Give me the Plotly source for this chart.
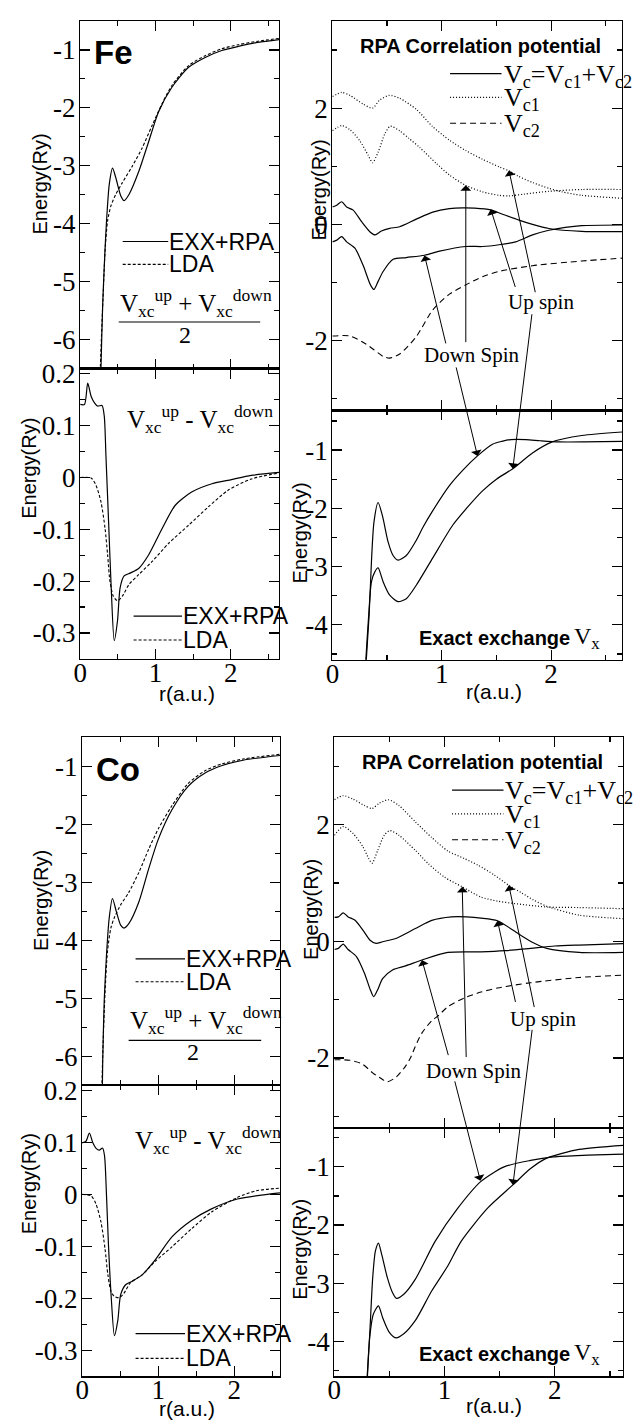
import plotly.graph_objects as go

W, H = 638, 1422

# ================= DATA =================
# ---- Fe : (Vxc_up + Vxc_down)/2 ----
fe_sum_exx_r = [0.26, 0.276, 0.298, 0.325, 0.35, 0.386, 0.43, 0.474, 0.54, 0.583, 0.65, 0.78, 0.91, 1.04, 1.22, 1.44, 1.66, 1.88, 2.1, 2.36, 2.65]
fe_sum_exx_v = [-7.5, -6.5, -5.43, -4.58, -3.95, -3.32, -3.04, -3.21, -3.52, -3.60, -3.49, -3.09, -2.58, -2.07, -1.64, -1.30, -1.13, -1.01, -0.94, -0.87, -0.82]
fe_sum_lda_r = [0.25, 0.268, 0.307, 0.333, 0.364, 0.408, 0.474, 0.56, 0.69, 0.82, 0.956, 1.09, 1.22, 1.44, 1.66, 1.88, 2.1, 2.36, 2.65]
fe_sum_lda_v = [-7.5, -6.46, -5.15, -4.41, -3.95, -3.69, -3.49, -3.29, -3.01, -2.70, -2.30, -1.92, -1.61, -1.27, -1.10, -0.98, -0.91, -0.85, -0.80]

# ---- Fe : Vxc_up - Vxc_down ----
fe_dif_exx_r = [0.0, 0.057, 0.10, 0.145, 0.19, 0.23, 0.29, 0.32, 0.342, 0.377, 0.412, 0.452, 0.496, 0.53, 0.583, 0.67, 0.78, 0.91, 1.09, 1.26, 1.48, 1.75, 2.01, 2.27, 2.65]
fe_dif_exx_v = [0.141, 0.141, 0.182, 0.157, 0.144, 0.138, 0.139, 0.118, 0.042, -0.085, -0.213, -0.315, -0.276, -0.213, -0.19, -0.184, -0.175, -0.149, -0.098, -0.054, -0.028, -0.012, -0.004, 0.004, 0.010]
fe_dif_lda_r = [0.0, 0.145, 0.21, 0.276, 0.33, 0.364, 0.395, 0.44, 0.496, 0.56, 0.65, 0.78, 0.956, 1.175, 1.44, 1.70, 1.96, 2.27, 2.65]
fe_dif_lda_v = [0.0, -0.001, -0.015, -0.047, -0.098, -0.149, -0.20, -0.229, -0.238, -0.229, -0.206, -0.187, -0.162, -0.127, -0.092, -0.057, -0.025, -0.003, 0.009]

# ---- Fe : RPA correlation potential ----
fe_vc1_up_r = [0, 0.085, 0.16, 0.28, 0.367, 0.433, 0.52, 0.615, 0.767, 0.918, 1.07, 1.22, 1.373, 1.524, 1.615, 1.70, 1.83, 1.98, 2.10, 2.28, 2.65]
fe_vc1_up_v = [2.20, 2.27, 2.22, 2.07, 2.00, 2.14, 2.22, 2.17, 1.98, 1.68, 1.45, 1.27, 1.12, 0.99, 0.92, 0.83, 0.72, 0.62, 0.56, 0.50, 0.45]
fe_vc1_dn_r = [0, 0.085, 0.16, 0.25, 0.327, 0.367, 0.418, 0.48, 0.53, 0.615, 0.70, 0.80, 0.95, 1.07, 1.22, 1.373, 1.524, 1.615, 1.75, 1.98, 2.28, 2.65]
fe_vc1_dn_v = [1.61, 1.70, 1.63, 1.44, 1.19, 1.06, 1.24, 1.56, 1.69, 1.61, 1.48, 1.32, 1.05, 0.85, 0.67, 0.56, 0.50, 0.49, 0.52, 0.57, 0.60, 0.60]
fe_vc_up_r = [0, 0.04, 0.085, 0.13, 0.19, 0.267, 0.342, 0.39, 0.448, 0.524, 0.615, 0.767, 0.918, 1.07, 1.19, 1.30, 1.448, 1.55, 1.706, 1.83, 1.98, 2.28, 2.65]
fe_vc_up_v = [0.30, 0.33, 0.39, 0.30, 0.245, 0.046, -0.125, -0.18, -0.114, -0.068, -0.04, 0.09, 0.21, 0.27, 0.285, 0.28, 0.25, 0.18, 0.074, 0.0, -0.07, -0.12, -0.125]
fe_vc_dn_r = [0, 0.04, 0.085, 0.13, 0.206, 0.28, 0.348, 0.38, 0.418, 0.464, 0.555, 0.676, 0.843, 0.98, 1.22, 1.373, 1.524, 1.675, 1.83, 1.98, 2.13, 2.28, 2.65]
fe_vc_dn_v = [-0.30, -0.27, -0.21, -0.30, -0.41, -0.70, -1.04, -1.12, -0.98, -0.81, -0.60, -0.57, -0.53, -0.46, -0.38, -0.38, -0.35, -0.30, -0.18, -0.10, -0.05, -0.02, -0.01]
fe_vc2_r = [0, 0.16, 0.31, 0.464, 0.524, 0.615, 0.767, 0.918, 1.07, 1.22, 1.373, 1.52, 1.83, 2.28, 2.65]
fe_vc2_v = [-1.92, -1.92, -2.06, -2.27, -2.30, -2.23, -1.93, -1.47, -1.20, -1.04, -0.90, -0.81, -0.71, -0.63, -0.58]

# ---- Fe : exact exchange ----
fe_vx_dn_r = [0.29, 0.31, 0.336, 0.357, 0.38, 0.418, 0.458, 0.51, 0.555, 0.60, 0.676, 0.767, 0.827, 0.918, 1.07, 1.20, 1.327, 1.464, 1.55, 1.63, 1.77, 1.90, 2.07, 2.3, 2.65]
fe_vx_dn_v = [-5.5, -4.6, -3.83, -2.92, -2.24, -1.90, -2.13, -2.58, -2.81, -2.89, -2.81, -2.55, -2.33, -2.04, -1.61, -1.33, -1.10, -0.90, -0.85, -0.82, -0.82, -0.84, -0.86, -0.86, -0.85]
fe_vx_up_r = [0.285, 0.306, 0.33, 0.357, 0.388, 0.418, 0.464, 0.524, 0.60, 0.676, 0.767, 0.918, 1.10, 1.25, 1.373, 1.50, 1.65, 1.83, 2.01, 2.28, 2.65]
fe_vx_up_v = [-5.5, -4.6, -3.89, -3.26, -3.09, -3.02, -3.26, -3.49, -3.60, -3.55, -3.32, -2.85, -2.29, -1.95, -1.70, -1.50, -1.32, -1.05, -0.86, -0.75, -0.69]

# ---- Co : (Vxc_up + Vxc_down)/2 ----
co_sum_exx_r = [0.255, 0.27, 0.29, 0.32, 0.355, 0.398, 0.45, 0.506, 0.55, 0.615, 0.745, 0.874, 1.0, 1.18, 1.39, 1.61, 1.83, 2.13, 2.62]
co_sum_exx_v = [-7.5, -6.1, -5.04, -4.25, -3.62, -3.28, -3.51, -3.74, -3.79, -3.71, -3.34, -2.77, -2.26, -1.75, -1.35, -1.12, -0.99, -0.89, -0.81]
co_sum_lda_r = [0.25, 0.268, 0.30, 0.333, 0.377, 0.42, 0.506, 0.615, 0.745, 0.874, 1.0, 1.18, 1.39, 1.61, 1.83, 2.13, 2.62]
co_sum_lda_v = [-7.5, -6.07, -4.93, -4.19, -3.79, -3.62, -3.39, -3.17, -2.83, -2.43, -2.08, -1.68, -1.30, -1.08, -0.96, -0.87, -0.79]

# ---- Co : Vxc_up - Vxc_down ----
co_dif_exx_r = [0.0, 0.05, 0.095, 0.14, 0.18, 0.225, 0.268, 0.294, 0.32, 0.346, 0.38, 0.424, 0.468, 0.506, 0.571, 0.658, 0.788, 0.96, 1.18, 1.44, 1.70, 2.04, 2.62]
co_dif_exx_v = [0.099, 0.102, 0.118, 0.099, 0.089, 0.085, 0.089, 0.074, -0.003, -0.098, -0.193, -0.272, -0.243, -0.193, -0.174, -0.167, -0.155, -0.126, -0.082, -0.050, -0.028, -0.009, 0.003]
co_dif_lda_r = [0.0, 0.117, 0.18, 0.247, 0.30, 0.338, 0.377, 0.42, 0.485, 0.55, 0.636, 0.788, 0.96, 1.18, 1.44, 1.70, 2.04, 2.29, 2.62]
co_dif_lda_v = [0.0, -0.003, -0.018, -0.053, -0.104, -0.155, -0.186, -0.196, -0.199, -0.19, -0.170, -0.155, -0.129, -0.101, -0.066, -0.034, -0.006, 0.007, 0.012]

# ---- Co : RPA correlation potential ----
co_vc1_up_r = [0, 0.08, 0.17, 0.274, 0.342, 0.408, 0.49, 0.586, 0.735, 0.884, 1.03, 1.18, 1.30, 1.45, 1.583, 1.70, 1.806, 1.93, 2.22, 2.62]
co_vc1_up_v = [2.43, 2.50, 2.44, 2.33, 2.28, 2.37, 2.43, 2.33, 2.05, 1.78, 1.55, 1.42, 1.31, 1.14, 0.96, 0.83, 0.71, 0.60, 0.45, 0.39]
co_vc1_dn_r = [0, 0.08, 0.17, 0.26, 0.312, 0.342, 0.393, 0.452, 0.503, 0.586, 0.735, 0.854, 1.0, 1.16, 1.33, 1.48, 1.63, 1.926, 2.22, 2.62]
co_vc1_dn_v = [1.82, 1.97, 1.85, 1.62, 1.42, 1.34, 1.56, 1.82, 1.90, 1.82, 1.56, 1.33, 1.10, 0.935, 0.76, 0.69, 0.65, 0.59, 0.58, 0.56]
co_vc_up_r = [0, 0.036, 0.08, 0.125, 0.185, 0.26, 0.324, 0.378, 0.4375, 0.557, 0.735, 0.884, 1.0625, 1.20, 1.33, 1.48, 1.6875, 1.80, 1.926, 2.22, 2.62]
co_vc_up_v = [0.41, 0.42, 0.49, 0.42, 0.365, 0.19, 0.02, -0.034, -0.006, 0.05, 0.22, 0.36, 0.42, 0.42, 0.40, 0.354, 0.108, -0.02, -0.12, -0.19, -0.19]
co_vc_dn_r = [0, 0.036, 0.08, 0.125, 0.2, 0.274, 0.324, 0.357, 0.393, 0.4375, 0.527, 0.646, 0.795, 1.03, 1.33, 1.55, 1.78, 2.0, 2.22, 2.62]
co_vc_dn_v = [-0.14, -0.12, -0.046, -0.14, -0.26, -0.55, -0.82, -0.95, -0.83, -0.64, -0.49, -0.42, -0.32, -0.19, -0.18, -0.16, -0.12, -0.08, -0.063, -0.04]
co_vc2_r = [0, 0.14, 0.25, 0.35, 0.4375, 0.48, 0.56, 0.646, 0.69, 0.735, 0.795, 0.884, 0.94, 1.03, 1.18, 1.33, 1.48, 1.78, 2.22, 2.62]
co_vc2_v = [-2.03, -2.04, -2.10, -2.26, -2.37, -2.41, -2.33, -2.14, -2.00, -1.80, -1.57, -1.36, -1.28, -1.12, -0.97, -0.87, -0.80, -0.71, -0.62, -0.58]

# ---- Co : exact exchange ----
co_vx_dn_r = [0.28, 0.30, 0.324, 0.348, 0.372, 0.40, 0.43, 0.48, 0.527, 0.562, 0.63, 0.735, 0.914, 1.12, 1.33, 1.54, 1.78, 1.985, 2.3, 2.62]
co_vx_dn_v = [-5.5, -4.6, -3.76, -2.90, -2.45, -2.31, -2.51, -2.90, -3.16, -3.26, -3.19, -2.93, -2.28, -1.71, -1.25, -1.0, -0.89, -0.83, -0.80, -0.78]
co_vx_up_r = [0.28, 0.298, 0.324, 0.354, 0.40, 0.4375, 0.497, 0.557, 0.63, 0.735, 0.884, 1.03, 1.15, 1.39, 1.62, 1.78, 1.926, 2.22, 2.62]
co_vx_up_v = [-5.5, -4.6, -3.87, -3.53, -3.39, -3.59, -3.84, -3.94, -3.87, -3.64, -3.13, -2.70, -2.28, -1.71, -1.31, -1.03, -0.85, -0.70, -0.63]

# tick labels
x_ticks = [0, 1, 2]
x_ticklabels = ["0", "1", "2"]
sum_ticks = [-6, -5, -4, -3, -2, -1]
sum_ticklabels = ["-6", "-5", "-4", "-3", "-2", "-1"]
dif_ticks = [-0.3, -0.2, -0.1, 0, 0.1, 0.2]
dif_ticklabels = ["-0.3", "-0.2", "-0.1", "0", "0.1", "0.2"]
vc_ticks = [-2, 0, 2]
vc_ticklabels = ["-2", "0", "2"]
vx_ticks = [-4, -3, -2, -1]
vx_ticklabels = ["-4", "-3", "-2", "-1"]

# ================= LAYOUT HELPERS =================
SERIF = "Liberation Serif"
SANS = "Liberation Sans"
TICKFONT = dict(family=SERIF, size=27, color="black")


def P(px, py):
    return px / W, 1 - py / H


layout = dict(width=W, height=H, margin=dict(l=0, r=0, t=0, b=0, pad=0),
              paper_bgcolor="white", plot_bgcolor="white", showlegend=False,
              font=dict(family=SERIF, size=24, color="black"))

# panels: id, x px span, y px span (top,bottom), xrange, yrange, yticks, ylabels, yminor, show x labels
panels = [
    (1, (74, 275), (12, 362), [0, 2.64], [-6.5, -0.5], sum_ticks, sum_ticklabels, [-5.5, -4.5, -3.5, -2.5, -1.5], False),
    (2, (74, 275), (362, 654), [0, 2.64], [-0.35, 0.21], dif_ticks, dif_ticklabels, [-0.25, -0.15, -0.05, 0.05, 0.15], True),
    (3, (329, 622), (12, 404), [0, 2.65], [-3.2, 3.5], vc_ticks, vc_ticklabels, [-3, -1, 1, 3], False),
    (4, (329, 622), (404, 655), [0, 2.65], [-4.6, -0.32], vx_ticks, vx_ticklabels, [-4.5, -3.5, -2.5, -1.5, -0.5], True),
    (5, (76, 276), (733, 1083), [0, 2.6], [-6.5, -0.5], sum_ticks, sum_ticklabels, [-5.5, -4.5, -3.5, -2.5, -1.5], False),
    (6, (76, 276), (1083, 1376), [0, 2.6], [-0.35, 0.21], dif_ticks, dif_ticklabels, [-0.25, -0.15, -0.05, 0.05, 0.15], True),
    (7, (331, 623), (733, 1126), [0, 2.62], [-3.2, 3.5], vc_ticks, vc_ticklabels, [-3, -1, 1, 3], False),
    (8, (331, 623), (1126, 1376), [0, 2.62], [-4.6, -0.33], vx_ticks, vx_ticklabels, [-4.5, -3.5, -2.5, -1.5, -0.5], True),
]

STYLES = {
    "solid": dict(color="black", width=1.2),
    "lda": dict(color="black", width=1.1, dash="3px,2px"),
    "vc1": dict(color="black", width=1.2, dash="1px,2px"),
    "vc2": dict(color="black", width=1.1, dash="6px,4px"),
}

series = [
    (1, fe_sum_exx_r, fe_sum_exx_v, "solid"), (1, fe_sum_lda_r, fe_sum_lda_v, "lda"),
    (2, fe_dif_exx_r, fe_dif_exx_v, "solid"), (2, fe_dif_lda_r, fe_dif_lda_v, "lda"),
    (3, fe_vc1_up_r, fe_vc1_up_v, "vc1"), (3, fe_vc1_dn_r, fe_vc1_dn_v, "vc1"),
    (3, fe_vc_up_r, fe_vc_up_v, "solid"), (3, fe_vc_dn_r, fe_vc_dn_v, "solid"),
    (3, fe_vc2_r, fe_vc2_v, "vc2"),
    (4, fe_vx_dn_r, fe_vx_dn_v, "solid"), (4, fe_vx_up_r, fe_vx_up_v, "solid"),
    (5, co_sum_exx_r, co_sum_exx_v, "solid"), (5, co_sum_lda_r, co_sum_lda_v, "lda"),
    (6, co_dif_exx_r, co_dif_exx_v, "solid"), (6, co_dif_lda_r, co_dif_lda_v, "lda"),
    (7, co_vc1_up_r, co_vc1_up_v, "vc1"), (7, co_vc1_dn_r, co_vc1_dn_v, "vc1"),
    (7, co_vc_up_r, co_vc_up_v, "solid"), (7, co_vc_dn_r, co_vc_dn_v, "solid"),
    (7, co_vc2_r, co_vc2_v, "vc2"),
    (8, co_vx_dn_r, co_vx_dn_v, "solid"), (8, co_vx_up_r, co_vx_up_v, "solid"),
]

fig = go.Figure()
for pid, r, v, st in series:
    sfx = "" if pid == 1 else str(pid)
    fig.add_trace(go.Scatter(x=r, y=v, mode="lines", line=dict(shape="spline", smoothing=0.7, **STYLES[st]),
                             xaxis="x" + sfx, yaxis="y" + sfx, hoverinfo="skip"))

fig.update_layout(**layout)

for pid, (x0, x1), (ytop, ybot), xr, yr, yt, yl, ymin, showx in panels:
    sfx = "" if pid == 1 else str(pid)
    common = dict(showgrid=False, zeroline=False, showline=True, linecolor="black", linewidth=1.3,
                  mirror="ticks", ticks="inside", ticklen=10, tickwidth=1.2, tickcolor="black",
                  tickfont=TICKFONT, fixedrange=True, tickmode="array")
    fig.layout["xaxis" + sfx] = dict(
        common, domain=[x0 / W, x1 / W], range=xr, anchor="y" + sfx,
        tickvals=x_ticks, ticktext=x_ticklabels, showticklabels=showx, ticklabelstandoff=-11,
        minor=dict(tickmode="array", tickvals=[0.5, 1.5, 2.5], ticks="inside", ticklen=5,
                   tickwidth=1.2, tickcolor="black"))
    fig.layout["yaxis" + sfx] = dict(
        common, domain=[1 - ybot / H, 1 - ytop / H], range=yr, anchor="x" + sfx,
        tickvals=yt, ticktext=yl, ticklabelstandoff=-2,
        minor=dict(tickmode="array", tickvals=ymin, ticks="inside", ticklen=5,
                   tickwidth=1.2, tickcolor="black"))

annotations = []
shapes = []


def text(px, py, s, size, family, xanchor="center", yanchor="middle", angle=0):
    x, y = P(px, py)
    annotations.append(dict(x=x, y=y, xref="paper", yref="paper", text=s, showarrow=False,
                            xanchor=xanchor, yanchor=yanchor, textangle=angle, borderpad=0,
                            font=dict(size=size, family=family, color="black")))


def seg(px0, px1, py, style):
    x0, y0 = P(px0, py)
    x1, _ = P(px1, py)
    shapes.append(dict(type="line", xref="paper", yref="paper", x0=x0, x1=x1, y0=y0, y1=y0,
                       line=STYLES[style]))


def bar(px0, px1, py):
    x0, y0 = P(px0, py)
    x1, _ = P(px1, py)
    shapes.append(dict(type="line", xref="paper", yref="paper", x0=x0, x1=x1, y0=y0, y1=y0,
                       line=dict(color="black", width=1.2)))


def arrow(pid, hx, hy, ax, ay):
    annotations.append(dict(x=hx, y=hy, xref="x%d" % pid, yref="y%d" % pid, ax=ax, ay=ay,
                            axref="pixel", ayref="pixel", text="", showarrow=True, arrowhead=1,
                            arrowsize=1.8, arrowwidth=1, arrowcolor="black", standoff=0))


VXC_SUM = "V<sub>xc</sub><sup>up</sup> + V<sub>xc</sub><sup>down</sup>"
VXC_DIF = "V<sub>xc</sub><sup>up</sup> - V<sub>xc</sub><sup>down</sup>"

# ----- left column texts -----
text(108, 44, "<b>Fe</b>", 33, SANS)
text(112, 765, "<b>Co</b>", 33, SANS)
text(33, 176, "Energy(Ry)", 20, SANS, angle=-90)
text(22, 462, "Energy(Ry)", 20, SANS, angle=-90)
text(35, 897, "Energy(Ry)", 20, SANS, angle=-90)
text(22, 1182, "Energy(Ry)", 20, SANS, angle=-90)
text(182, 689, "r(a.u.)", 21, SANS)
text(182, 1408, "r(a.u.)", 21, SANS)

# Fe legends / labels
seg(117, 163, 234, "solid"); text(163, 234, "EXX+RPA", 23, SANS, xanchor="left")
seg(117, 163, 257, "lda"); text(163, 257, "LDA", 23, SANS, xanchor="left")
text(113, 296, VXC_SUM, 25, SERIF, xanchor="left")
bar(113, 256, 315)
text(180, 328, "2", 24, SERIF)
text(120, 413, VXC_DIF, 25, SERIF, xanchor="left")
seg(128, 177, 611, "solid"); text(177, 611, "EXX+RPA", 23, SANS, xanchor="left")
seg(128, 177, 635, "lda"); text(177, 635, "LDA", 23, SANS, xanchor="left")

# Co legends / labels
seg(130, 180, 956, "solid"); text(180, 956, "EXX+RPA", 23, SANS, xanchor="left")
seg(130, 180, 979, "lda"); text(180, 979, "LDA", 23, SANS, xanchor="left")
text(123, 1017, VXC_SUM, 25, SERIF, xanchor="left")
bar(123, 257, 1038)
text(188, 1050, "2", 24, SERIF)
text(128, 1138, VXC_DIF, 25, SERIF, xanchor="left")
seg(130, 180, 1333, "solid"); text(180, 1333, "EXX+RPA", 23, SANS, xanchor="left")
seg(130, 180, 1358, "lda"); text(180, 1358, "LDA", 23, SANS, xanchor="left")

# ----- right column texts -----
for dy, dx in [(0, 0), (721, 2)]:
    text(479 + dx, 37 + dy, "<b>RPA Correlation potential</b>", 20, SANS)
    seg(448 + dx, 500 + dx, 65 + dy, "solid")
    text(501 + dx, 67 + dy, "V<sub>c</sub>=V<sub>c1</sub>+V<sub>c2</sub>", 26, SERIF, xanchor="left")
    seg(448 + dx, 500 + dx, 89 + dy, "vc1")
    text(501 + dx, 91 + dy, "V<sub>c1</sub>", 26, SERIF, xanchor="left")
    seg(448 + dx, 500 + dx, 115 + dy, "vc2")
    text(501 + dx, 117 + dy, "V<sub>c2</sub>", 26, SERIF, xanchor="left")
    text(540 + dx, 295 + dy, "Up spin", 21, SERIF)
    text(470 + dx, 348 + dy, "Down Spin", 21, SERIF)
    text(570, 633 + dy, "<b>Exact exchange</b>", 20, SANS, xanchor="right")
    text(572, 633 + dy, "V<sub>x</sub>", 24, SERIF, xanchor="left")
text(492, 687, "r(a.u.)", 21, SANS)
text(492, 1405, "r(a.u.)", 21, SANS)
text(315, 182, "Energy(Ry)", 20, SANS, angle=-90)
text(296, 527, "Energy(Ry)", 20, SANS, angle=-90)
text(308, 906, "Energy(Ry)", 20, SANS, angle=-90)
text(296, 1248, "Energy(Ry)", 20, SANS, angle=-90)

# arrows Fe (head on curve, tail offset in px)
arrow(3, 0.843, -0.535, 21.6, 89.4)
arrow(3, 1.22, 0.672, 0, 158.3)
arrow(4, 1.327, -1.10, -21.7, -90)
arrow(3, 1.448, 0.262, 25, 79.3)
arrow(3, 1.615, 0.928, 26.6, 123.3)
arrow(4, 1.65, -1.32, 19.3, -156)
# arrows Co
arrow(7, 0.795, -0.32, 26.7, 96.6)
arrow(7, 1.16, 0.935, 4, 171.7)
arrow(8, 1.325, -1.24, -26, -101)
arrow(7, 1.48, 0.354, 18.3, 82.7)
arrow(7, 1.583, 0.962, 25.7, 123.3)
arrow(8, 1.62, -1.31, 19.4, -156.6)

fig.update_layout(annotations=annotations, shapes=shapes)
fig.write_html("out.html", include_plotlyjs=True, config={"displayModeBar": False, "staticPlot": True})
